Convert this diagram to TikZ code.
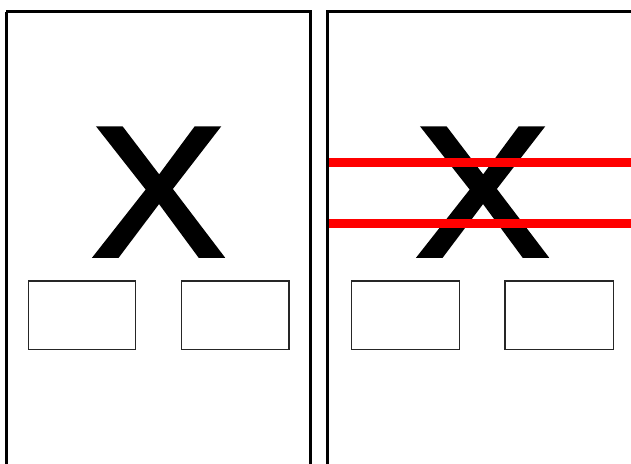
\documentclass[tikz,border=0pt]{standalone}
\usepackage{fontspec}
\setmainfont{Liberation Sans}
\newfontfamily\xfont[FakeBold=2.5]{Liberation Sans}
\begin{document}
\begin{tikzpicture}[x=1pt,y=-1pt,
  panel/.style={draw=black,line width=3pt},
  slot/.style={draw=black!85,line width=1.9pt},
  bigx/.style={inner sep=0pt,anchor=base,font=\xfont\fontsize{184.5}{184.5}\selectfont},
  strike/.style={draw=red,line width=9pt}]
\useasboundingbox (0,0) rectangle (631,463);
\clip (0,0) rectangle (631,463);
\fill[white] (0,0) rectangle (631,463);
% left panel
\draw[panel] (6,11.5) -- (6,480) (6,11.5) -- (310.5,11.5) -- (310.5,480);
\node[bigx] (xl) at (158.5,255.5) {\scalebox{1.074}[1]{X}};
\draw[slot] (28.5,281) rectangle (135.5,349.5);
\draw[slot] (181.5,281) rectangle (288.8,349.5);
% right panel
\draw[panel] (327.5,480) -- (327.5,11.5) -- (640,11.5);
\node[bigx] (xr) at (482.5,255.5) {\scalebox{1.074}[1]{X}};
\draw[slot] (351.5,281) rectangle (459.5,349.5);
\draw[slot] (505,281) rectangle (613.5,349.5);
\draw[strike] (329,162) -- (640,162);
\draw[strike] (329,223) -- (640,223);
\end{tikzpicture}
\end{document}
